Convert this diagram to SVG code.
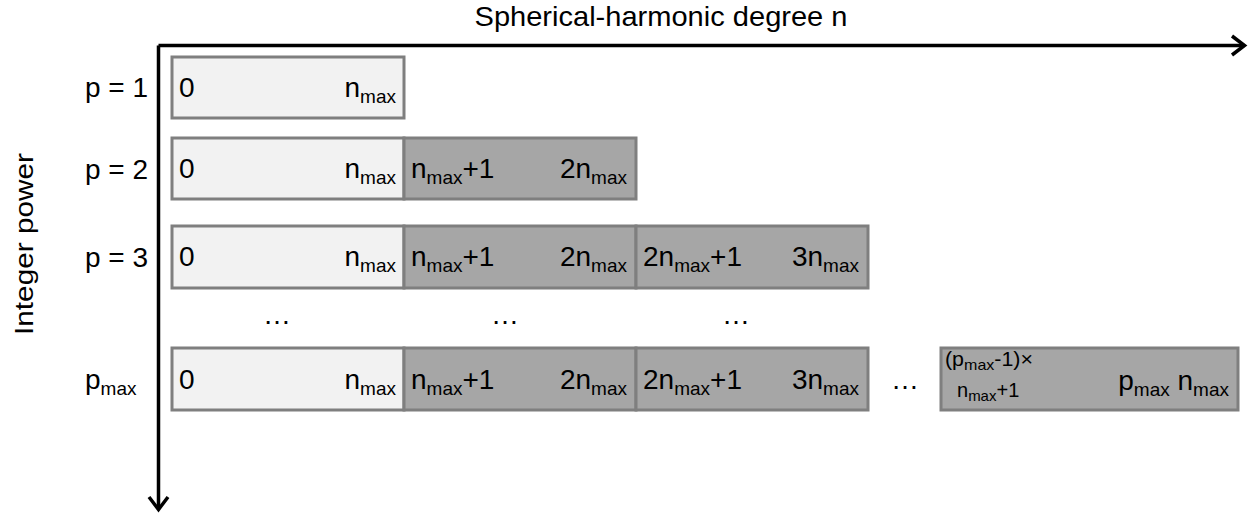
<svg xmlns="http://www.w3.org/2000/svg" width="1248" height="514" viewBox="0 0 1248 514">
<style>
text{font-family:"Liberation Sans",Arial,sans-serif;fill:#000}
.t{font-size:28px}
.s{font-size:19px}
.sm{font-size:20px}
.ss{font-size:15px}
.light{fill:#f2f2f2;stroke:#7f7f7f;stroke-width:3}
.dark{fill:#a6a6a6;stroke:#7f7f7f;stroke-width:3}
.axis{fill:none;stroke:#000;stroke-width:3.5}
</style>
<rect width="1248" height="514" fill="#fff"/>
<g id="axes">
<path class="axis" d="M158.5 45.5 H1244 M158.5 45.5 V508"/>
<path class="axis" d="M1232 36 L1244.5 45.5 L1232 55"/>
<path class="axis" d="M149 497 L158.5 509.5 L168 497"/>
</g>
<text id="title" x="661" y="26" text-anchor="middle" style="font-size:28px" textLength="373" lengthAdjust="spacingAndGlyphs">Spherical-harmonic degree n</text>
<text id="ylabel" transform="translate(33 244) rotate(-90)" text-anchor="middle" style="font-size:26px" textLength="182" lengthAdjust="spacingAndGlyphs">Integer power</text>
<g id="labels">
<text class="t" x="85" y="97">p = 1</text>
<text class="t" x="85" y="179">p = 2</text>
<text class="t" x="85" y="267">p = 3</text>
<text class="t" x="85" y="389">p<tspan class="s" dy="6">max</tspan></text>
</g>
<g id="row1">
<rect class="light" x="172" y="57" width="232" height="61"/>
<text class="t" x="179" y="97">0</text>
<text class="t" x="396" y="97" text-anchor="end">n<tspan class="s" dy="6">max</tspan></text>
</g>
<g id="row2">
<rect class="light" x="172" y="138" width="232" height="61"/>
<rect class="dark" x="404" y="138" width="232" height="61"/>
<text class="t" x="179" y="178">0</text>
<text class="t" x="396" y="178" text-anchor="end">n<tspan class="s" dy="6">max</tspan></text>
<text class="t" x="411" y="178">n<tspan class="s" dy="6">max</tspan><tspan dy="-6">+1</tspan></text>
<text class="t" x="627" y="178" text-anchor="end">2n<tspan class="s" dy="6">max</tspan></text>
</g>
<g id="row3">
<rect class="light" x="172" y="226" width="232" height="62"/>
<rect class="dark" x="404" y="226" width="232" height="62"/>
<rect class="dark" x="636" y="226" width="232" height="62"/>
<text class="t" x="179" y="266">0</text>
<text class="t" x="396" y="266" text-anchor="end">n<tspan class="s" dy="6">max</tspan></text>
<text class="t" x="411" y="266">n<tspan class="s" dy="6">max</tspan><tspan dy="-6">+1</tspan></text>
<text class="t" x="627" y="266" text-anchor="end">2n<tspan class="s" dy="6">max</tspan></text>
<text class="t" x="643" y="266">2n<tspan class="s" dy="6">max</tspan><tspan dy="-6">+1</tspan></text>
<text class="t" x="859" y="266" text-anchor="end">3n<tspan class="s" dy="6">max</tspan></text>
</g>
<g id="dots">
<text class="t" x="277" y="324" text-anchor="middle">…</text>
<text class="t" x="505" y="324" text-anchor="middle">…</text>
<text class="t" x="736" y="324" text-anchor="middle">…</text>
<text class="t" x="905" y="389" text-anchor="middle">…</text>
</g>
<g id="rowpmax">
<rect class="light" x="172" y="348" width="232" height="62"/>
<rect class="dark" x="404" y="348" width="232" height="62"/>
<rect class="dark" x="636" y="348" width="232" height="62"/>
<rect class="dark" x="941" y="348" width="297" height="62"/>
<text class="t" x="179" y="389">0</text>
<text class="t" x="396" y="389" text-anchor="end">n<tspan class="s" dy="6">max</tspan></text>
<text class="t" x="411" y="389">n<tspan class="s" dy="6">max</tspan><tspan dy="-6">+1</tspan></text>
<text class="t" x="627" y="389" text-anchor="end">2n<tspan class="s" dy="6">max</tspan></text>
<text class="t" x="643" y="389">2n<tspan class="s" dy="6">max</tspan><tspan dy="-6">+1</tspan></text>
<text class="t" x="859" y="389" text-anchor="end">3n<tspan class="s" dy="6">max</tspan></text>
<text class="sm" x="945" y="366" textLength="88" lengthAdjust="spacingAndGlyphs">(p<tspan class="ss" dy="4">max</tspan><tspan dy="-4">-1)×</tspan></text>
<text class="sm" x="957" y="397">n<tspan class="ss" dy="4">max</tspan><tspan dy="-4">+1</tspan></text>
<text class="t" x="1229" y="390" text-anchor="end">p<tspan class="s" dy="6">max</tspan><tspan dy="-6"> n</tspan><tspan class="s" dy="6">max</tspan></text>
</g>
</svg>
